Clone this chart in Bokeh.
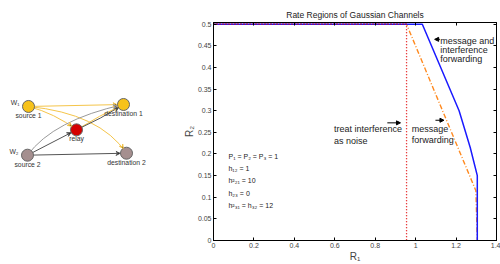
import math
from bokeh.plotting import figure
from bokeh.layouts import row
from bokeh.models import Range1d, FixedTicker, LinearAxis, Label, Arrow, VeeHead, NormalHead
from bokeh.core.properties import value
from bokeh.embed import file_html
from bokeh.resources import INLINE

FONT = "Liberation Sans"

# ---------------- data: rate region curves ----------------
mif_r1 = [0.0, 1.033, 1.215, 1.27, 1.305, 1.305]
mif_r2 = [0.5, 0.5, 0.30, 0.215, 0.15, 0.0]

mf_r1 = [0.0, 0.955, 1.298, 1.305]
mf_r2 = [0.5, 0.5, 0.115, 0.0]

tin_r1 = [0.0, 0.955, 0.955]
tin_r2 = [0.5, 0.5, 0.0]

x_ticks = [0, 0.2, 0.4, 0.6, 0.8, 1.0, 1.2, 1.4]
x_tick_labels = ["0", "0.2", "0.4", "0.6", "0.8", "1", "1.2", "1.4"]
y_ticks = [0, 0.05, 0.1, 0.15, 0.2, 0.25, 0.3, 0.35, 0.4, 0.45, 0.5]
y_tick_labels = ["0", "0.05", "0.1", "0.15", "0.2", "0.25", "0.3", "0.35", "0.4", "0.45", "0.5"]

param_lines = ["P\u2081 = P\u2082 = P\u2083 = 1", "h\u2081\u2082 = 1", "h\u00b2\u2082\u2081 = 10",
               "h\u2082\u2083 = 0", "h\u00b2\u2083\u2081 = h\u2083\u2082 = 12"]

# ---------------- data: network diagram ----------------
node_names = ["source 1", "destination 1", "relay", "source 2", "destination 2"]
node_x = [28, 123, 76, 27, 126]
node_y = [101.7, 99.3, 130, 160.7, 158.3]
node_colors = ["#f7c21a", "#f7c21a", "#d40000", "#a58f8f", "#a58f8f"]
node_inputs = ["W\u2081", "", "", "W\u2082", ""]

YEL = "#f5c54a"
DG = "#555555"
LG = "#9a9a9a"
edge_from = [0, 0, 0, 2, 2, 3, 3, 3]
edge_to = [1, 2, 4, 1, 1, 1, 2, 4]
edge_color = [YEL, YEL, YEL, YEL, DG, LG, DG, DG]
edge_cdx = [0, 2, 22, -1, 1, -22, 0, 0]
edge_cdy = [0, -6, -20, -2, 2, -12, 0, 0]

# ---------------- left figure: diagram ----------------
LW, H = 180, 264
d = figure(width=LW, height=H, output_backend="svg", toolbar_location=None,
           x_range=Range1d(0, LW), y_range=Range1d(H, 0),
           x_axis_location=None, y_axis_location=None, min_border=0)
d.outline_line_color = None
d.xgrid.visible = False
d.ygrid.visible = False

R = 6.5
for f, t, c, cdx, cdy in zip(edge_from, edge_to, edge_color, edge_cdx, edge_cdy):
    x0, y0, x1, y1 = node_x[f], node_y[f], node_x[t], node_y[t]
    cx = (x0 + x1) / 2 + cdx
    cy = (y0 + y1) / 2 + cdy
    d.quadratic(x0=[x0], y0=[y0], x1=[x1], y1=[y1], cx=[cx], cy=[cy],
                line_color=c, line_width=1.0)
    ux, uy = x1 - cx, y1 - cy
    n = math.hypot(ux, uy)
    ux, uy = ux / n, uy / n
    ex, ey = x1 - R * ux, y1 - R * uy
    d.add_layout(Arrow(end=VeeHead(size=4, line_color=c, line_width=1),
                       x_start=ex - 3 * ux, y_start=ey - 3 * uy, x_end=ex, y_end=ey,
                       line_color=c, line_width=1))

d.scatter(node_x, node_y, size=12, fill_color=node_colors, line_color="#666666", line_width=1)
d.text(x=node_x, y=[yy + 11 for yy in node_y], text=node_names, text_align="center",
       text_baseline="middle", text_font=value(FONT), text_font_size="6.8px", text_color="#333333")
d.text(x=[xx - 9 for xx in node_x], y=[yy - 5 for yy in node_y], text=node_inputs, text_align="right",
       text_baseline="middle", text_font=value(FONT), text_font_size="6.8px", text_color="#333333")

# ---------------- right figure: rate regions ----------------
RW = 500 - LW
p = figure(width=RW, height=H, output_backend="svg", toolbar_location=None,
           x_range=Range1d(0, 1.4), y_range=Range1d(0, 0.504),
           min_border_left=32, min_border_right=4, min_border_top=22, min_border_bottom=21,
           title="Rate Regions of Gaussian Channels")
p.title.text_font = FONT
p.title.text_font_size = "8.5px"
p.title.text_font_style = "normal"
p.title.align = "center"
p.title.standoff = 5
p.title.text_color = "#222222"
p.xgrid.visible = False
p.ygrid.visible = False
p.outline_line_color = "black"
p.outline_line_width = 1

p.line(tin_r1, tin_r2, line_color="#e00000", line_width=1.3, line_dash="1 2")
p.line(mf_r1, mf_r2, line_color="#ff8a20", line_width=1.4, line_dash="5 2 1 2")
p.line(mif_r1, mif_r2, line_color="#1a1aff", line_width=1.5)
p.line(tin_r1[:2], tin_r2[:2], line_color="#e00000", line_width=1.3, line_dash="1 2")

def style_axis(ax, ticks, labels, show):
    ax.ticker = FixedTicker(ticks=ticks)
    ax.major_label_overrides = {t: l for t, l in zip(ticks, labels)}
    ax.major_tick_in = 3
    ax.major_tick_out = 0
    ax.minor_tick_line_color = None
    ax.axis_line_color = "black"
    ax.major_label_text_font = FONT
    ax.major_label_text_font_size = "7px" if show else "0px"
    ax.major_label_standoff = 2
    ax.axis_label_text_font = FONT
    ax.axis_label_text_font_style = "normal"
    ax.axis_label_text_font_size = "10px"
    ax.axis_label_standoff = 0

style_axis(p.xaxis[0], x_ticks, x_tick_labels, True)
style_axis(p.yaxis[0], y_ticks, y_tick_labels, True)
p.xaxis[0].axis_label = "R\u2081"
p.yaxis[0].axis_label = "R\u2082"

top = LinearAxis()
style_axis(top, x_ticks, ["" for _ in x_ticks], False)
top.major_label_standoff = 0
p.add_layout(top, "above")
right = LinearAxis()
style_axis(right, y_ticks, ["" for _ in y_ticks], False)
right.major_label_standoff = 0
p.add_layout(right, "right")

def lab(x, y, t, size="9px"):
    p.add_layout(Label(x=x, y=y, text=t, text_font=FONT, text_font_size=size,
                       text_baseline="middle", text_align="left", text_color="#222222"))

lab(1.122, 0.461, "message and")
lab(1.122, 0.440, "interference")
lab(1.122, 0.419, "forwarding")
lab(0.596, 0.258, "treat interference")
lab(0.596, 0.231, "as noise")
lab(0.981, 0.258, "message")
lab(0.981, 0.233, "forwarding")

for i, t in enumerate(param_lines):
    lab(0.074, 0.195 - i * 0.0285, t, size="7px")

def arr(x0, x1, y):
    p.add_layout(Arrow(end=NormalHead(size=4, fill_color="black", line_color="black"),
                       x_start=x0, y_start=y, x_end=x1, y_end=y, line_color="black", line_width=1))

arr(1.12, 1.094, 0.465)
arr(0.86, 0.925, 0.272)
arr(1.098, 1.14, 0.278)

layout = row(d, p)
open("out.html", "w").write(file_html(layout, INLINE))
